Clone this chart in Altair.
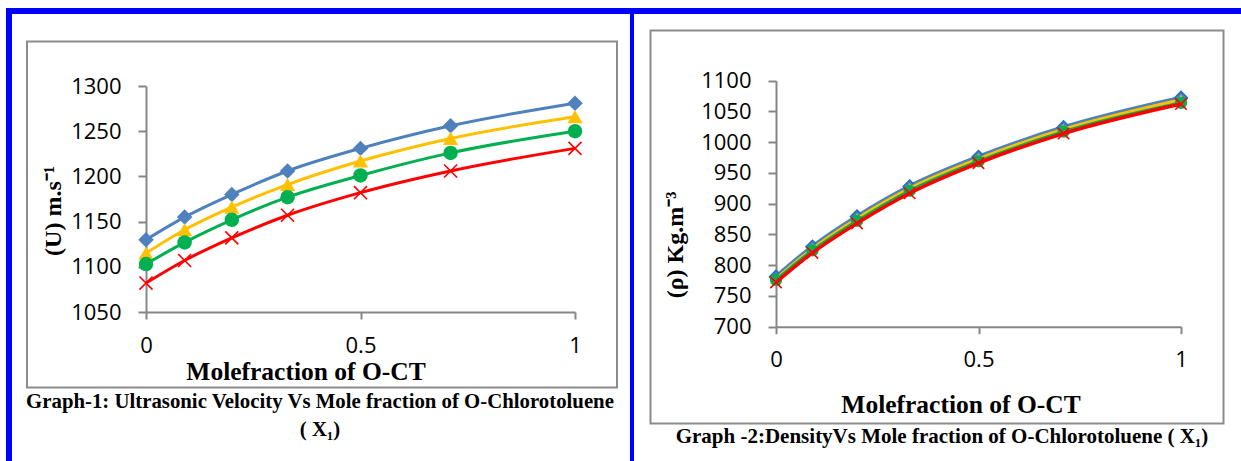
import altair as alt
import pandas as pd

# ---------------- data ----------------
x_frac = [0, 0.09, 0.2, 0.33, 0.5, 0.71, 1]
series_names = ["Series 1", "Series 2", "Series 3", "Series 4"]

u_blue = [1130, 1155, 1180, 1206, 1231, 1256, 1281]
u_yellow = [1115, 1141, 1166, 1191, 1217, 1242, 1266]
u_green = [1103, 1127, 1152, 1177, 1201, 1226, 1250]
u_red = [1082, 1107, 1132, 1157, 1182, 1206, 1231]

rho_blue = [781, 830, 879, 928, 976, 1024, 1072]
rho_yellow = [778, 827, 876, 925, 973, 1021, 1069]
rho_green = [776, 824, 872, 921, 969, 1017, 1064]
rho_red = [772, 820, 868, 917, 966, 1014, 1062]

u_ticks = [1050, 1100, 1150, 1200, 1250, 1300]
rho_ticks = [700, 750, 800, 850, 900, 950, 1000, 1050, 1100]
x_ticks = [0, 0.5, 1]

left_ytitle = "(U) m.s\u207b\u00b9"
right_ytitle = "(\u03c1) Kg.m\u207b\u00b3"
xtitle = "Molefraction of O-CT"
cap1_line1 = "Graph-1: Ultrasonic Velocity Vs Mole fraction of O-Chlorotoluene"
cap1_line2 = "( X\u2081)"
cap2 = "Graph -2:DensityVs Mole fraction of O-Chlorotoluene  ( X\u2081)"

# ---------------- styles ----------------
colors = ["#4F81BD", "#FFC000", "#00B050", "#FF0000"]
shapes = ["diamond", "triangle-up", "circle", "M-1,-1L1,1M1,-1L-1,1"]
AX_GRAY = "#868686"
FRAME_GRAY = "#8C8C8C"
BLUE = "#0000FF"
LABEL_FONT = "Open Sans"
SERIF = "Liberation Serif"

W, H = 1241, 461


def long_df(series_lists):
    rows = []
    for name, vals in zip(series_names, series_lists):
        for xv, yv in zip(x_frac, vals):
            rows.append({"x": xv, "y": yv, "series": name})
    return pd.DataFrame(rows)


def panel(df, x_range, y_domain, y_range, y_ticks, sizes, line_widths, diamond_stroke=None):
    xs = alt.Scale(domain=[0, 1], range=x_range, nice=False, zero=False)
    ys = alt.Scale(domain=y_domain, range=y_range, nice=False, zero=False)
    x_axis = alt.Axis(
        orient="bottom", offset=y_range[0] - H, values=x_ticks, format="~g",
        title=None, grid=False, domainColor=AX_GRAY, domainWidth=2,
        tickColor=AX_GRAY, tickWidth=2, tickSize=7, labelFont=LABEL_FONT,
        labelFontSize=22, labelColor="black", labelPadding=16, labelFlush=False,
    )
    y_axis = alt.Axis(
        orient="left", offset=-x_range[0], values=y_ticks, format="d",
        title=None, grid=False, domainColor=AX_GRAY, domainWidth=2,
        tickColor=AX_GRAY, tickWidth=2, tickSize=8, labelFont=LABEL_FONT,
        labelFontSize=22, labelColor="black", labelPadding=17, labelFlush=False,
    )
    enc_x = alt.X("x:Q", scale=xs, axis=x_axis)
    enc_y = alt.Y("y:Q", scale=ys, axis=y_axis)
    base = alt.Chart(df)
    layers = []
    for i, name in enumerate(series_names):
        sub = base.transform_filter(alt.datum.series == name)
        layers.append(
            sub.mark_line(color=colors[i], strokeWidth=line_widths[i], interpolate="monotone")
            .encode(x=enc_x, y=enc_y)
        )
        if shapes[i].startswith("M"):
            pm = sub.mark_point(shape=shapes[i], filled=False, color=colors[i],
                                strokeWidth=1.6, size=sizes[i], opacity=1)
        elif shapes[i] == "diamond" and diamond_stroke:
            pm = sub.mark_point(shape=shapes[i], filled=True, fill=colors[i],
                                stroke=diamond_stroke, strokeWidth=1.5,
                                size=sizes[i], opacity=1)
        else:
            pm = sub.mark_point(shape=shapes[i], filled=True, color=colors[i],
                                size=sizes[i], opacity=1)
        layers.append(pm.encode(x=enc_x, y=enc_y))
    return alt.layer(*layers)


left = panel(long_df([u_blue, u_yellow, u_green, u_red]),
             x_range=[146, 575], y_domain=[1050, 1300], y_range=[312, 86],
             y_ticks=u_ticks, sizes=[240, 230, 210, 170], line_widths=[3, 3, 3, 3])

right = panel(long_df([rho_blue, rho_yellow, rho_green, rho_red]),
              x_range=[776, 1181], y_domain=[700, 1100], y_range=[326.7, 80.7],
              y_ticks=rho_ticks, sizes=[170, 150, 150, 130], line_widths=[4.5, 3, 3, 3.5],
              diamond_stroke="#1F6FC0")

# ---------------- decorations ----------------
one = alt.Data(values=[{}])


def rect(x, x2, y, y2, **kw):
    return alt.Chart(one).mark_rect(**kw).encode(
        x=alt.value(x), x2=alt.value(x2), y=alt.value(y), y2=alt.value(y2))


def text(s, x, y, size, font=SERIF, angle=0, bold=True):
    kw = dict(font=font, fontSize=size, fontWeight="bold" if bold else "normal",
              color="black", align="center", baseline="middle")
    if angle:
        kw["angle"] = angle
    return alt.Chart(one).mark_text(**kw).encode(
        x=alt.value(x), y=alt.value(y), text=alt.value(s))


decor = [
    rect(6, W, 8, 14, color=BLUE),
    rect(6, 12, 8, H, color=BLUE),
    rect(630, 634, 8, H, color=BLUE),
    rect(27, 617, 41.5, 387.5, fill="transparent", stroke=FRAME_GRAY, strokeWidth=2),
    rect(650.5, 1223.5, 30.5, 423.5, fill="transparent", stroke=FRAME_GRAY, strokeWidth=2),
    text(xtitle, 306, 372, 25.5),
    text(xtitle, 961, 405, 25.5),
    text(left_ytitle, 54, 211, 24, angle=270),
    text(right_ytitle, 676, 245, 24, angle=270),
    text(cap1_line1, 320, 402, 20.8),
    text(cap1_line2, 320, 430, 20.8),
    text(cap2, 942, 437, 21),
]

chart = (
    alt.layer(*decor, left, right)
    .resolve_scale(x="independent", y="independent")
    .properties(width=W, height=H, padding=0,
                autosize=alt.AutoSizeParams(type="none"), background="white")
    .configure_view(strokeWidth=0)
)

chart.save("out.html", embed_options={"renderer": "svg", "actions": False})
